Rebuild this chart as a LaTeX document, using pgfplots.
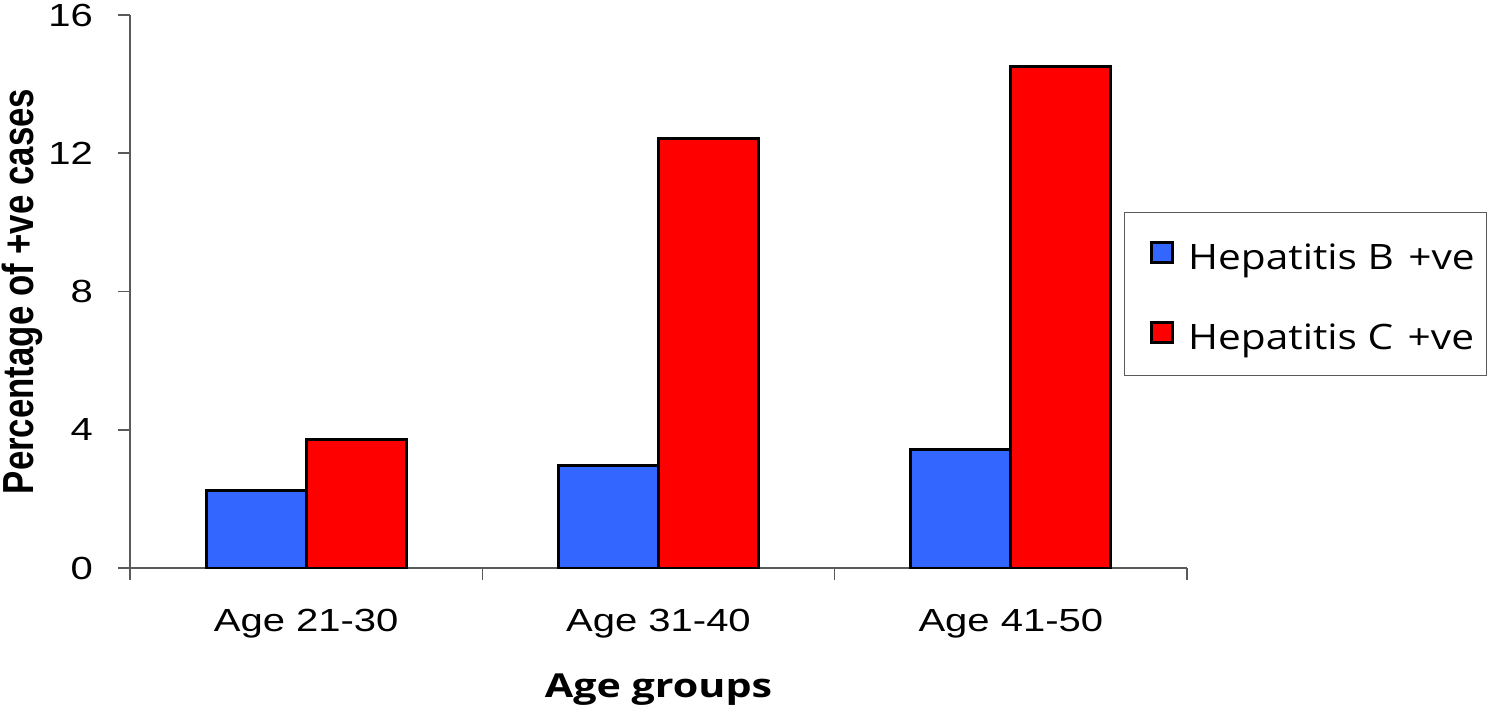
\documentclass[border=0pt]{standalone}
\usepackage{graphicx}
\usepackage{pgfplots}
\pgfplotsset{compat=1.18}
\usepackage{fontspec}
\setmainfont{Liberation Sans}
\newfontfamily\tickfont{Liberation Sans}[FakeStretch=1.25]
\newfontfamily\legfont{Open Sans}[FakeStretch=1.16]
\newfontfamily\xlabfont{Open Sans}[FakeStretch=1.25]
\definecolor{hepB}{RGB}{51,102,255}
\definecolor{hepC}{RGB}{255,0,0}
\definecolor{axgray}{RGB}{90,90,90}
\begin{document}
\begin{tikzpicture}
\useasboundingbox (-65pt,-69.5pt) rectangle (680.5pt,284pt);
\begin{axis}[
  scale only axis, width=528.5pt, height=276.5pt,
  ybar=0pt, bar width=50pt,
  xmin=0.5, xmax=3.5, ymin=0, ymax=16,
  enlargelimits=false,
  axis x line*=bottom, axis y line*=left,
  axis line style={axgray, line width=0.8pt},
  tick align=outside, major tick length=6pt,
  tick style={axgray, line width=0.8pt},
  xtick={0.5,1.5,2.5,3.5}, x tick label as interval,
  xticklabels={Age 21-30,Age 31-40,Age 41-50},
  ytick={0,4,8,12,16},
  /pgf/number format/assume math mode=true,
  ticklabel style={font=\tickfont\fontsize{16}{19}\selectfont},
  xticklabel style={anchor=north, inner sep=0pt, yshift=-14.5pt},
  yticklabel style={xshift=-9pt},
  xlabel={Age groups}, ylabel={\scalebox{1}[1.25]{Percentage of +ve cases}},
  xlabel style={font=\xlabfont\bfseries\fontsize{16.5}{19}\selectfont, at={(axis description cs:0.5,-0.2333)}, anchor=base},
  ylabel style={font=\bfseries\fontsize{17.4}{20}\selectfont, at={(axis description cs:-0.1022,0.5)}, anchor=center},
  legend style={at={(rel axis cs:0.9404,0.6438)}, anchor=north west, draw=axgray, line width=0.7pt,
    font=\legfont\fontsize{17.5}{20}\selectfont, inner xsep=6pt, inner ysep=6pt, row sep=10.5pt,
    nodes={inner sep=0pt, text height=22.5pt, text depth=7pt},
    /tikz/every odd column/.style={column sep=7pt}},
  legend cell align=left,
  legend image code/.code={\path (0pt,0pt); \draw[#1,draw=black,line width=1.5pt] (6.75pt,-4pt) rectangle (17.25pt,6pt);},
]
\addplot[fill=hepB, draw=black, line width=1.5pt] coordinates {(1,2.23) (2,2.98) (3,3.44)};
\addplot[fill=hepC, draw=black, line width=1.5pt] coordinates {(1,3.72) (2,12.44) (3,14.5)};
\legend{Hepatitis B\hspace{2pt} +ve, Hepatitis C\hspace{2pt} +ve}
\end{axis}
\end{tikzpicture}
\end{document}
